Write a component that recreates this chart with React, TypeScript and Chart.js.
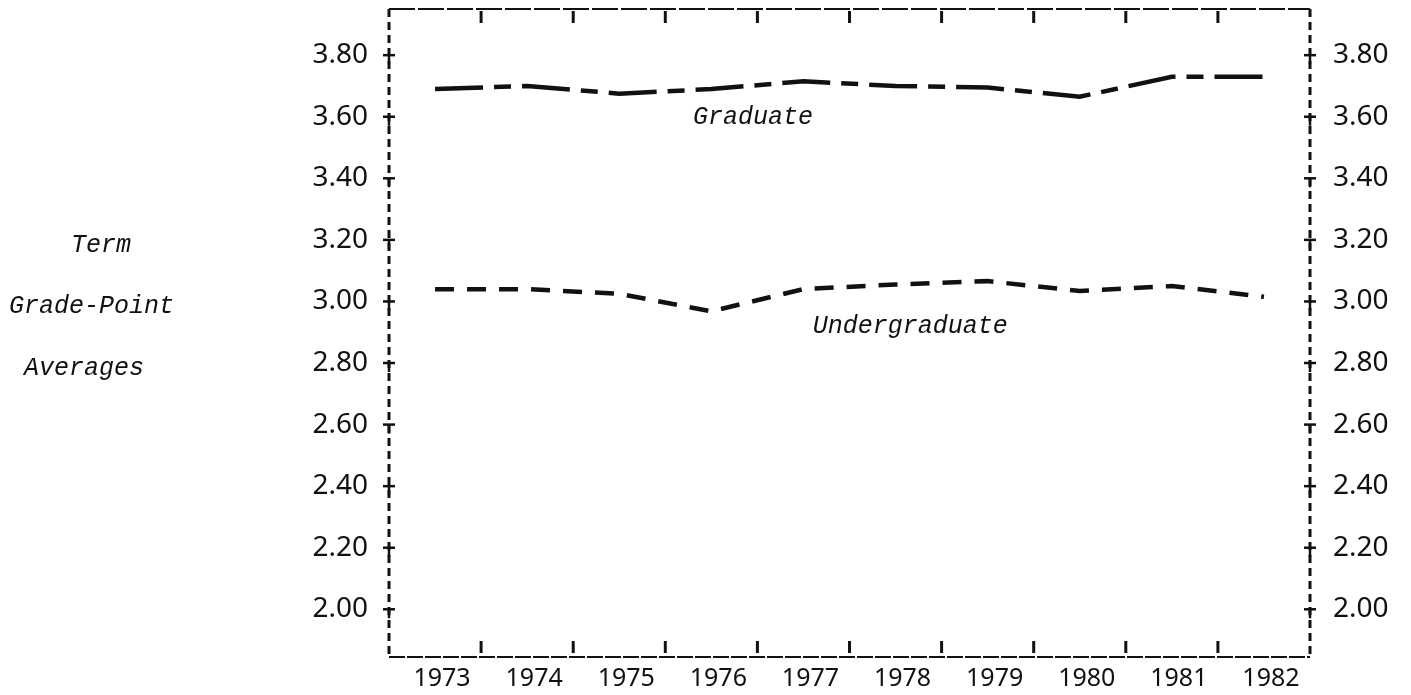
import React, { useEffect, useRef } from "react";
import { Chart, registerables } from "chart.js";

Chart.register(...registerables);

// ---- data ----
const YEARS = [1973, 1974, 1975, 1976, 1977, 1978, 1979, 1980, 1981, 1982];
const GRADUATE = [3.69, 3.7, 3.675, 3.69, 3.715, 3.7, 3.695, 3.665, 3.73, 3.73];
const UNDERGRADUATE = [3.04, 3.04, 3.025, 2.968, 3.04, 3.055, 3.066, 3.034, 3.05, 3.015];
const Y_TICKS = [2.0, 2.2, 2.4, 2.6, 2.8, 3.0, 3.2, 3.4, 3.6, 3.8];
const Y_TITLE = ["Term", "Grade-Point", "Averages"];
const SERIES_NAMES = ["Graduate", "Undergraduate"];

const INK = "#111";
const LABEL_FONT = "'Liberation Mono', 'DejaVu Sans Mono', monospace";

const decorPlugin = {
  id: "decor",
  afterDraw(chart: any) {
    const { ctx, chartArea: a, scales } = chart;
    const xs = scales.x;
    const ys = scales.y;
    const line = (x1: number, y1: number, x2: number, y2: number, w: number, dash: number[] = []) => {
      ctx.beginPath();
      ctx.lineWidth = w;
      ctx.setLineDash(dash);
      ctx.moveTo(x1, y1);
      ctx.lineTo(x2, y2);
      ctx.stroke();
    };
    ctx.save();
    ctx.strokeStyle = INK;
    ctx.lineCap = "butt";
    // frame
    line(a.left, a.top, a.right, a.top, 1.8, [26, 3]);
    line(a.left, a.bottom, a.right, a.bottom, 2.2, [16, 2]);
    line(a.left, a.top, a.left, a.bottom, 3, [8, 5]);
    line(a.right, a.top, a.right, a.bottom, 3, [8, 5]);
    // inner year-boundary ticks
    for (let i = 0; i < YEARS.length - 1; i++) {
      const px = xs.getPixelForValue(YEARS[i] + 0.5);
      line(px, a.bottom - 16, px, a.bottom - 4, 3);
      line(px, a.top + 2, px, a.top + 14, 3);
    }
    // y crosses
    for (const v of Y_TICKS) {
      const py = ys.getPixelForValue(v);
      for (const ax of [a.left, a.right]) {
        line(ax - 6, py, ax + 6, py, 2.5);
        line(ax, py, ax, py + 9, 2.5);
      }
    }
    // texts
    ctx.setLineDash([]);
    ctx.fillStyle = INK;
    ctx.font = `italic 25px ${LABEL_FONT}`;
    ctx.textBaseline = "alphabetic";
    ctx.textAlign = "left";
    const titleX = [71, 9, 24];
    const titleV = [3.2, 3.0, 2.8];
    Y_TITLE.forEach((t, i) => {
      ctx.fillText(t, titleX[i], ys.getPixelForValue(titleV[i]) + 12);
    });
    ctx.fillText(SERIES_NAMES[0], xs.getPixelForValue(1975.8), ys.getPixelForValue(3.576));
    ctx.fillText(SERIES_NAMES[1], xs.getPixelForValue(1977.1), ys.getPixelForValue(2.897));
    ctx.restore();
  },
};

export default function App() {
  const ref = useRef<HTMLCanvasElement | null>(null);

  useEffect(() => {
    if (!ref.current) return;
    const yTicks = (scale: any) => {
      scale.ticks = Y_TICKS.map((v) => ({ value: v }));
    };
    const yCommon = {
      type: "linear" as const,
      min: 1.845,
      max: 3.95,
      afterBuildTicks: yTicks,
      grid: { display: false, drawTicks: false },
      border: { display: false },
      ticks: {
        callback: (v: any) => Number(v).toFixed(2),
        color: INK,
        font: { family: "'Noto Sans', sans-serif", size: 28 },
        padding: 21,
      },
    };
    const chart = new Chart(ref.current, {
      type: "line",
      data: {
        datasets: [
          {
            label: SERIES_NAMES[0],
            data: YEARS.map((yr, i) => ({ x: yr, y: GRADUATE[i] })),
            borderColor: INK,
            borderWidth: 4.5,
            borderDash: [48, 11, 17, 11],
            pointRadius: 0,
            tension: 0,
            fill: false,
          },
          {
            label: SERIES_NAMES[1],
            data: YEARS.map((yr, i) => ({ x: yr, y: UNDERGRADUATE[i] })),
            borderColor: INK,
            borderWidth: 4.5,
            borderDash: [19, 13],
            pointRadius: 0,
            tension: 0,
            fill: false,
          },
        ],
      },
      options: {
        animation: false,
        responsive: false,
        events: [],
        layout: { padding: { top: 9, left: 0, right: 0, bottom: 0 } },
        plugins: { legend: { display: false }, tooltip: { enabled: false } },
        scales: {
          x: {
            type: "linear",
            position: "bottom",
            min: YEARS[0] - 0.5,
            max: YEARS[YEARS.length - 1] + 0.5,
            afterBuildTicks: (scale: any) => {
              scale.ticks = YEARS.map((v) => ({ value: v }));
            },
            afterFit: (scale: any) => {
              scale.height = 38;
              scale.paddingLeft = 0;
              scale.paddingRight = 0;
            },
            grid: { display: false, drawTicks: false },
            border: { display: false },
            ticks: {
              callback: (v: any) => String(v),
              color: INK,
              font: { family: "'Noto Sans', sans-serif", size: 25 },
              padding: 7,
              labelOffset: 7,
              maxRotation: 0,
              autoSkip: false,
            },
          },
          y: {
            ...yCommon,
            position: "left",
            afterFit: (scale: any) => {
              scale.width = 389;
              scale.paddingTop = 0;
              scale.paddingBottom = 0;
            },
          },
          y2: {
            ...yCommon,
            position: "right",
            ticks: { ...yCommon.ticks, padding: 23 },
            afterFit: (scale: any) => {
              scale.width = 101;
              scale.paddingTop = 0;
              scale.paddingBottom = 0;
            },
          },
        },
      },
      plugins: [decorPlugin],
    } as any);
    return () => chart.destroy();
  }, []);

  return (
    <div style={{ position: "fixed", left: 0, top: 0, width: 1411, height: 695, background: "#fff" }}>
      <canvas ref={ref} width={1411} height={695} style={{ display: "block" }} />
    </div>
  );
}
